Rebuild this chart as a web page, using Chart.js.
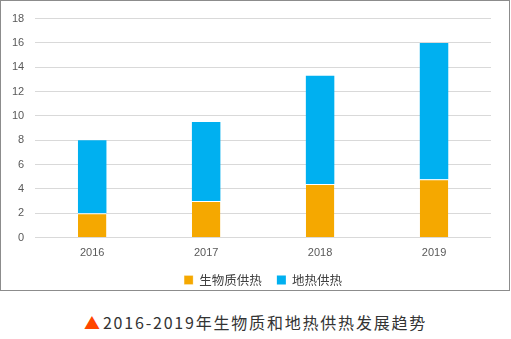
<!DOCTYPE html>
<html><head><meta charset="utf-8">
<script src="https://cdn.jsdelivr.net/npm/chart.js@4/dist/chart.umd.min.js"></script>
<style>
html,body{margin:0;padding:0;background:#fff;}
#box{position:absolute;left:0;top:0;width:508px;height:289px;border:1px solid #8c8c8c;}
#cap{position:absolute;left:0;top:310px;width:511px;text-align:center;font:16px "Noto Sans CJK SC",sans-serif;color:#333;letter-spacing:1.8px;}
#cap span{color:#ff4500;letter-spacing:3px;}
</style></head>
<body>
<div id="box"><canvas id="c" width="508" height="289"></canvas></div>
<div id="cap"><span>▲</span>2016-2019年生物质和地热供热发展趋势</div>
<script>
const categories = ["2016","2017","2018","2019"];
const biomass = [2, 3, 4.4, 4.8];
const geothermal = [6, 6.5, 8.9, 11.2];
const seriesNames = ["生物质供热","地热供热"];
const yTicks = [0,2,4,6,8,10,12,14,16,18];

const centerLegendOnPlot = {
  id: 'centerLegendOnPlot',
  afterLayout(chart) {
    const lg = chart.legend, a = chart.chartArea;
    if (lg && a) { lg.left = a.left; lg.right = a.right; lg.width = a.right - a.left; }
  }
};

new Chart(document.getElementById('c'), {
  type: 'bar',
  data: {
    labels: categories,
    datasets: [
      {label: seriesNames[0], data: biomass, backgroundColor: '#f5a800', borderColor:'#ffffff', borderWidth:{left:0,right:0,top:1,bottom:0}, borderSkipped:false},
      {label: seriesNames[1], data: geothermal, backgroundColor: '#00b0f0', borderColor:'#ffffff', borderWidth:0}
    ]
  },
  plugins: [centerLegendOnPlot],
  options: {
    responsive: false,
    animation: false,
    devicePixelRatio: 1,
    layout: {padding: {left: 0, right: 18, top: 2, bottom: -6.25}},
    datasets: {bar: {categoryPercentage: 1, barPercentage: 0.25}},
    scales: {
      x: {
        stacked: true,
        grid: {display: false, drawTicks: false},
        border: {display: false},
        afterFit: (s) => { s.height = Math.max(0, s.height - 9); },
        ticks: {color: '#595959', font: {family: 'Liberation Sans', size: 11}, padding: 8.5}
      },
      y: {
        stacked: true,
        min: 0, max: 18,
        afterBuildTicks: (ax) => { ax.ticks = yTicks.map(v => ({value: v})); },
        grid: {color: '#d9d9d9', lineWidth: 1, drawTicks: false},
        border: {display: false},
        ticks: {color: '#595959', font: {family: 'Liberation Sans', size: 11}, padding: 11}
      }
    },
    plugins: {
      legend: {
        position: 'bottom',
        labels: {boxWidth: 9, boxHeight: 9, padding: 15, color: '#404040', font: {family: 'Noto Sans CJK SC', size: 12.5}}
      },
      tooltip: {enabled: false}
    }
  }
});
</script>
</body></html>
